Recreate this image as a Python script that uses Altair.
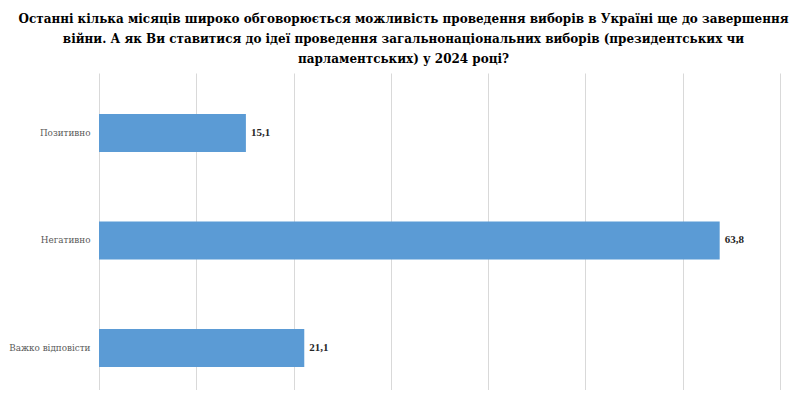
import altair as alt
import pandas as pd

categories = ["Позитивно", "Негативно", "Важко відповісти"]
values = [15.1, 63.8, 21.1]

df = pd.DataFrame({"category": categories, "value": values})

title_lines = [
    "Останні кілька місяців широко обговорюється можливість проведення виборів в Україні ще до завершення",
    "війни. А як Ви ставитися до ідеї проведення загальнонаціональних виборів (президентських чи",
    "парламентських) у 2024 році?",
]

SERIF = "'DejaVu Serif Condensed', 'DejaVu Serif', serif"

y_enc = alt.Y(
    "category:N",
    sort=categories,
    title=None,
    scale=alt.Scale(paddingInner=0.6465, paddingOuter=0.2977, align=0.64),
    axis=alt.Axis(
        labelFont=SERIF,
        labelFontSize=9.8,
        labelColor="#595959",
        labelPadding=9,
        ticks=False,
        domain=False,
        grid=False,
    ),
)
x_enc = alt.X(
    "value:Q",
    title=None,
    scale=alt.Scale(domain=[0, 70], nice=False),
    axis=alt.Axis(
        values=[0, 10, 20, 30, 40, 50, 60, 70],
        labels=False,
        ticks=False,
        domain=False,
        grid=True,
        gridColor="#d9d9d9",
        gridWidth=1,
    ),
)

bars = alt.Chart(df).mark_bar(color="#5B9BD5").encode(y=y_enc, x=x_enc)

text = (
    alt.Chart(df)
    .transform_calculate(label="replace(format(datum.value, '.1f'), '.', ',')")
    .mark_text(
        align="left",
        baseline="middle",
        dx=5,
        font="'Liberation Serif', serif",
        fontSize=11,
        fontWeight="bold",
        color="#262626",
    )
    .encode(y=alt.Y("category:N", sort=categories), x="value:Q", text="label:N")
)

chart = (
    alt.layer(bars, text)
    .properties(
        width=681,
        height=317,
        padding={"left": 91, "top": 65, "right": 18, "bottom": 0},
        autosize=alt.AutoSizeParams(type="none"),
        title=alt.TitleParams(
            text=title_lines,
            font=SERIF,
            fontSize=13.3,
            fontWeight="bold",
            color="#000000",
            lineHeight=20,
            anchor="middle",
            dx=-36,
            offset=8,
        ),
    )
    .configure_view(stroke=None)
)

chart.save("out.html", embed_options={"renderer": "svg", "actions": False})
